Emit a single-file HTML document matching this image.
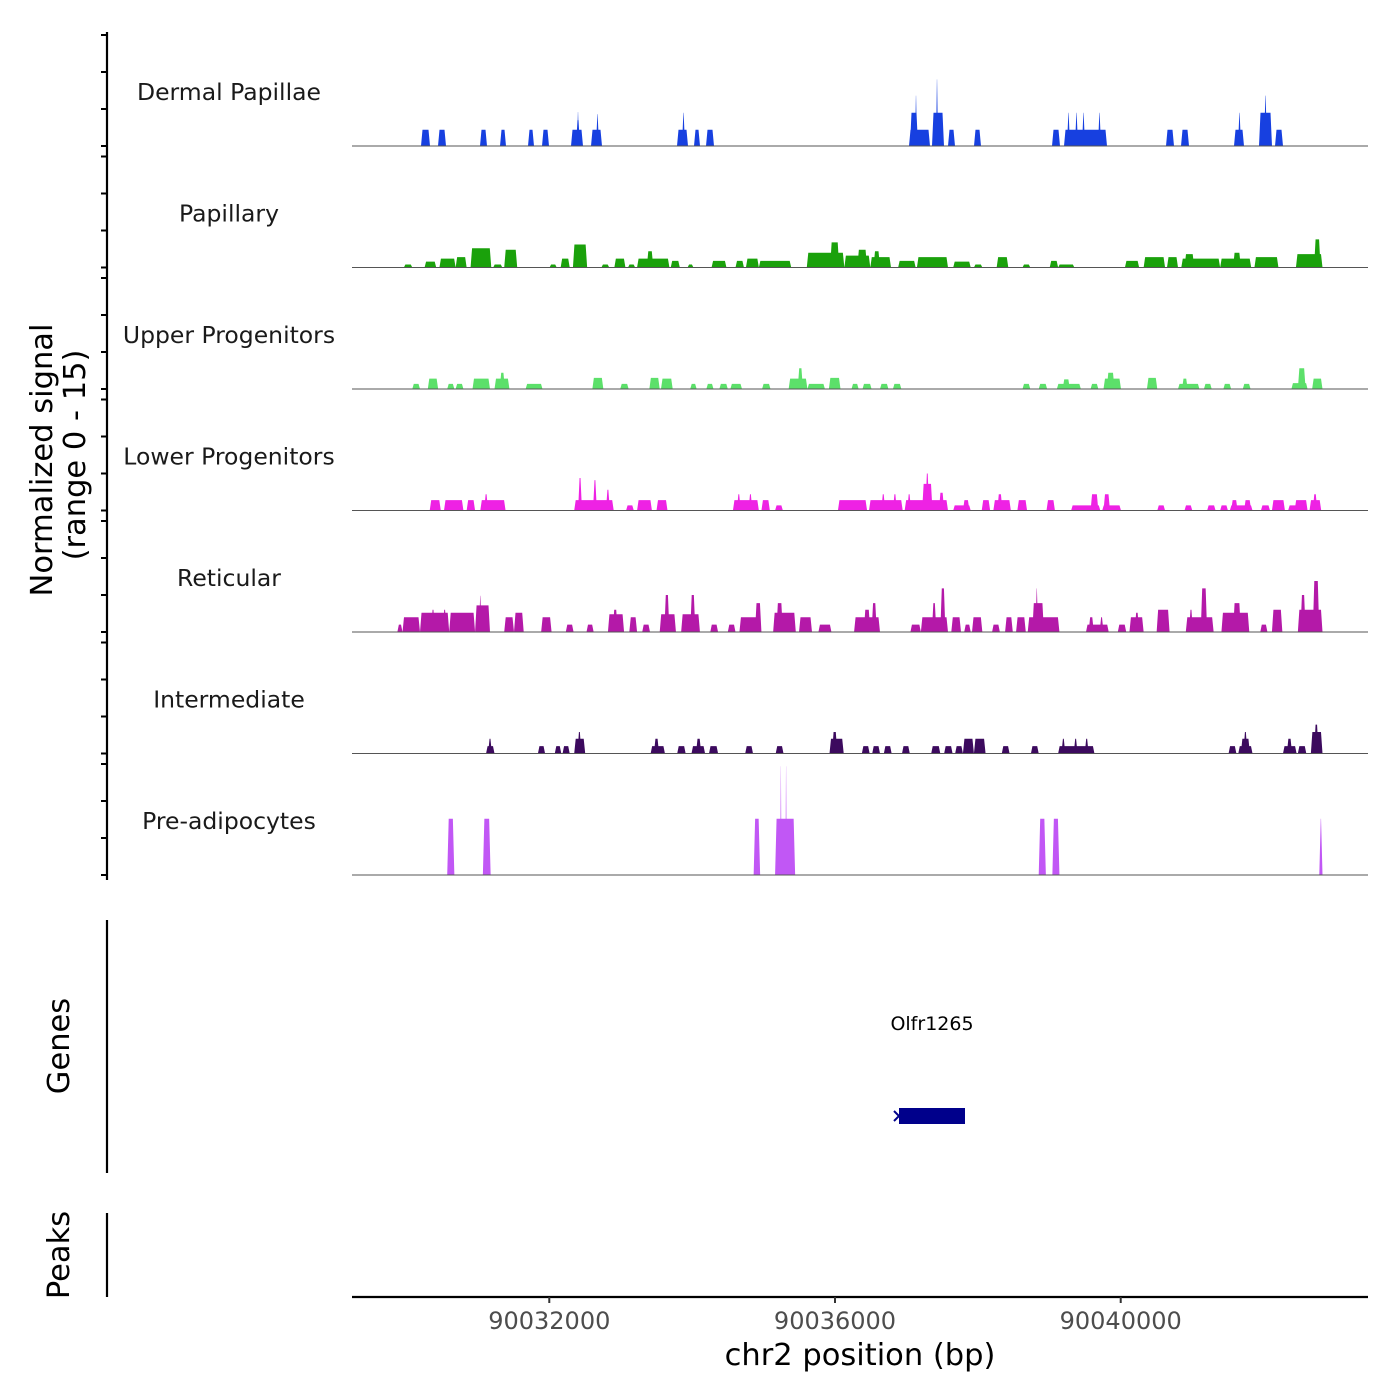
<!DOCTYPE html>
<html><head><meta charset="utf-8"><style>
html,body{margin:0;padding:0;background:#fff;}
svg{display:block;font-family:"DejaVu Sans","Liberation Sans",sans-serif;}
</style></head><body>
<svg id="chart" width="1400" height="1400" viewBox="0 0 1400 1400" xmlns="http://www.w3.org/2000/svg">
<rect width="1400" height="1400" fill="#fff"/>
<text transform="translate(52,460) rotate(-90)" text-anchor="middle" font-size="30.5" fill="#000">Normalized signal</text>
<text transform="translate(85,455) rotate(-90)" text-anchor="middle" font-size="30.5" fill="#000">(range 0 - 15)</text>
<text transform="translate(69,1046) rotate(-90)" text-anchor="middle" font-size="30.5" fill="#000">Genes</text>
<text transform="translate(69,1255) rotate(-90)" text-anchor="middle" font-size="30.5" fill="#000">Peaks</text>
<line x1="107" y1="32" x2="107" y2="880" stroke="#000" stroke-width="2.2"/>
<line x1="107" y1="920" x2="107" y2="1173" stroke="#000" stroke-width="2.2"/>
<line x1="107" y1="1213" x2="107" y2="1297" stroke="#000" stroke-width="2.2"/>
<line x1="352" y1="1297" x2="1368" y2="1297" stroke="#000" stroke-width="2.2"/>
<text x="860" y="1365" text-anchor="middle" font-size="30.5" fill="#000">chr2 position (bp)</text>
<g id="marks"></g>
</svg>
<script>
const regionStart = 90029238;
const regionEnd = 90043462;
const xTicks = [90032000, 90036000, 90040000];
const trackNames = ["Dermal Papillae","Papillary","Upper Progenitors","Lower Progenitors","Reticular","Intermediate","Pre-adipocytes"];
const trackColors = ["#1740E0","#1AA10B","#5CE06A","#EE22E4","#B419A8","#3C0A5E","#C157F5"];
const yTickValues = [0,5,10,15];
// peaks: [startOffsetBp, endOffsetBp, signal]
const dermalPeaks = [[966,1092,2.2],[1204,1316,2.2],[1792,1890,2.2],[2072,2156,2.2],[2464,2548,2.2],[2660,2758,2.2],[3066,3234,2.2],[3136,3192,3.5],[3150,3178,4.6],[3346,3500,2.2],[3416,3458,4.3],[4550,4704,2.2],[4620,4662,4.5],[4788,4872,2.2],[4956,5068,2.2],[7798,8092,2.2],[7812,7924,4.5],[7882,7910,6.8],[8120,8288,4.5],[8176,8204,9.0],[8344,8442,2.2],[8708,8806,2.2],[9800,9912,2.2],[9968,10570,2.2],[10010,10052,4.5],[10122,10164,4.5],[10220,10262,4.5],[10444,10486,4.5],[11396,11508,2.2],[11606,11718,2.2],[12348,12488,2.2],[12404,12446,4.5],[12698,12880,4.5],[12768,12810,6.8],[12922,13034,2.2]];
const papillaryPeaks = [[726,844,0.4],[1016,1179,0.8],[1224,1451,1.2],[1451,1605,1.4],[1660,1950,2.6],[1977,2104,0.4],[2131,2313,2.4],[2766,2866,0.4],[2921,3048,1.2],[3093,3292,3.1],[3492,3601,0.4],[3673,3828,1.2],[3864,3964,0.4],[3991,4444,1.2],[4127,4218,2.2],[4462,4589,0.9],[4698,4780,0.4],[5034,5242,0.9],[5369,5487,0.9],[5515,5696,1.2],[5696,6149,0.9],[6367,6893,2.0],[6694,6821,3.4],[6893,7256,1.6],[7075,7211,2.4],[7256,7546,1.4],[7301,7392,2.2],[7646,7891,0.9],[7909,8344,1.4],[8417,8662,0.8],[8707,8825,0.4],[9025,9188,1.4],[9387,9496,0.4],[9768,9886,0.9],[9886,10113,0.4],[10821,11020,0.9],[11083,11383,1.4],[11410,11564,1.4],[11610,12154,1.2],[11655,11791,1.8],[12154,12589,1.2],[12335,12444,2.0],[12634,12970,1.4],[13215,13587,1.8],[13469,13560,3.8]];
const upperPeaks = [[844,952,0.7],[1061,1206,1.4],[1333,1433,0.7],[1451,1560,0.7],[1687,1932,1.4],[1995,2204,1.4],[2068,2141,2.2],[2431,2667,0.7],[3365,3519,1.5],[3755,3873,0.7],[4163,4308,1.5],[4326,4490,1.4],[4735,4825,0.7],[4961,5061,0.7],[5143,5261,0.7],[5297,5460,0.7],[5741,5859,0.7],[6113,6376,1.4],[6240,6313,2.8],[6376,6621,0.7],[6676,6839,1.5],[6993,7093,0.7],[7147,7274,0.7],[7392,7510,0.7],[7573,7691,0.7],[9387,9496,0.7],[9614,9732,0.7],[9868,10204,0.7],[9950,10050,1.3],[10340,10449,0.7],[10521,10766,1.4],[10567,10675,2.2],[11129,11274,1.5],[11564,11864,0.7],[11620,11700,1.4],[11927,12036,0.7],[12199,12308,0.7],[12471,12580,0.7],[13152,13378,0.8],[13242,13351,2.8],[13442,13587,1.4]];
const lowerPeaks = [[1088,1243,1.4],[1288,1560,1.4],[1605,1723,1.4],[1796,2150,1.4],[1850,1905,2.2],[3111,3664,1.4],[3165,3220,4.4],[3374,3428,4.1],[3555,3610,2.8],[3837,3945,0.7],[3991,4199,1.4],[4263,4417,1.4],[5333,5696,1.4],[5388,5442,2.2],[5551,5605,2.2],[5732,5850,1.4],[5923,6032,0.7],[6803,7211,1.4],[7238,7710,1.4],[7410,7465,2.2],[7573,7628,2.2],[7737,8344,1.4],[7773,7827,2.2],[7982,8127,3.6],[8027,8081,5.0],[8217,8290,2.4],[8417,8662,0.7],[8553,8644,1.4],[8816,8934,1.4],[8979,9224,1.4],[9034,9106,2.2],[9315,9451,1.4],[9723,9841,1.4],[10068,10476,0.7],[10340,10449,2.2],[10503,10766,0.7],[10521,10612,2.2],[11274,11383,0.7],[11655,11764,0.7],[11972,12090,0.7],[12154,12263,0.7],[12290,12607,0.7],[12308,12399,1.4],[12489,12589,1.4],[12725,12852,0.7],[12879,13061,1.4],[13106,13378,0.7],[13197,13378,1.4],[13405,13569,1.4],[13451,13514,2.2]];
const reticularPeaks = [[635,707,1.0],[707,952,2.0],[952,1361,2.6],[1107,1161,3.0],[1270,1324,3.0],[1361,1723,2.6],[1723,1932,3.6],[1778,1814,4.9],[2131,2268,2.0],[2268,2404,2.6],[2648,2794,2.0],[2993,3102,1.0],[3283,3383,1.0],[3583,3809,2.4],[3650,3720,3.0],[3882,3991,2.0],[4063,4172,1.0],[4308,4535,2.4],[4372,4444,5.0],[4608,4871,2.4],[4735,4807,5.0],[5016,5125,1.0],[5261,5369,1.0],[5424,5714,2.0],[5642,5732,3.9],[5896,6213,2.6],[5941,6032,3.9],[6258,6440,2.0],[6530,6712,1.0],[7029,7392,2.0],[7165,7256,3.0],[7274,7347,3.9],[7818,7964,1.0],[7964,8344,2.0],[8118,8181,3.9],[8236,8308,5.9],[8390,8526,2.0],[8571,8662,1.0],[8680,8825,2.0],[8961,9070,1.0],[9143,9251,2.0],[9297,9433,2.0],[9460,9904,2.0],[9524,9687,3.9],[9569,9605,5.9],[10276,10594,1.0],[10313,10385,2.0],[10467,10521,2.0],[10721,10839,1.0],[10884,11083,2.0],[10957,11020,2.6],[11265,11446,3.0],[11673,12063,2.0],[11718,11773,3.0],[11882,11972,5.9],[12172,12562,2.6],[12335,12444,3.9],[12716,12816,1.0],[12879,13025,3.0],[13242,13587,3.0],[13278,13351,5.0],[13451,13542,6.9]];
const intermediatePeaks = [[1877,1995,1.0],[1905,1959,2.0],[2603,2703,1.0],[2839,2930,1.0],[2948,3048,1.0],[3111,3265,2.0],[3156,3211,2.9],[4181,4381,1.0],[4227,4299,2.0],[4553,4671,1.0],[4753,4943,1.0],[4816,4889,2.0],[4998,5125,1.0],[5505,5614,1.0],[5932,6041,1.0],[6685,6884,2.0],[6721,6794,2.9],[7138,7247,1.0],[7283,7392,1.0],[7446,7555,1.0],[7700,7809,1.0],[8109,8236,1.0],[8290,8408,1.0],[8444,8553,1.0],[8553,8707,2.0],[8707,8870,2.0],[9097,9206,1.0],[9505,9614,1.0],[9886,10394,1.0],[9932,9986,2.0],[10104,10158,2.0],[10258,10313,2.0],[12272,12381,1.0],[12408,12607,1.0],[12444,12571,2.0],[12480,12535,2.9],[13034,13224,1.0],[13088,13161,2.0],[13242,13360,1.0],[13424,13587,2.9],[13469,13532,3.9]];
const preadipocytePeaks = [[1333,1433,7.6],[1832,1941,7.6],[5623,5714,7.6],[5923,6204,7.6],[5995,6013,14.7],[6068,6086,14.7],[9614,9714,7.6],[9805,9904,7.6],[13542,13587,7.6]];
const trackPeaks = [dermalPeaks,papillaryPeaks,upperPeaks,lowerPeaks,reticularPeaks,intermediatePeaks,preadipocytePeaks];
const geneName = "Olfr1265";
const geneStart = 90036896;
const geneEnd = 90037820;

const NS = "http://www.w3.org/2000/svg";
const g = document.getElementById("marks");
const X0 = 352, X1 = 1368;
function xs(bp){ return X0 + (bp - regionStart) / (regionEnd - regionStart) * (X1 - X0); }
const trackTop = 25, trackH = 121.5, pxPerUnit = 7.4;
function baseY(i){ return trackTop + (i + 1) * trackH - 0.5; }
function ys(i, v){ return baseY(i) - Math.min(v, 15) * pxPerUnit; }
function mk(tag, attrs){ const e = document.createElementNS(NS, tag); for (const k in attrs) e.setAttribute(k, attrs[k]); g.appendChild(e); return e; }

trackNames.forEach((name, i) => {
  const b = baseY(i);
  yTickValues.forEach(v => {
    const t = mk("line", {x1: 101, x2: 107, y1: ys(i, v), y2: ys(i, v), stroke: "#000", "stroke-width": 2});
    
    
  });
  const lbl = mk("text", {x: 229, y: b - 46, "text-anchor": "middle", "font-size": 23.5, fill: "#1a1a1a"});
  lbl.textContent = name;
  
  
  let d = "";
  trackPeaks[i].forEach(p => {
    const xa = xs(regionStart + p[0]), xb = xs(regionStart + p[1]);
    const s = Math.min(1.5, (xb - xa) / 2.2);
    const yt = ys(i, p[2]);
    d += "M" + xa.toFixed(2) + " " + b + "L" + (xa + s).toFixed(2) + " " + yt.toFixed(2) + "L" + (xb - s).toFixed(2) + " " + yt.toFixed(2) + "L" + xb.toFixed(2) + " " + b + "Z";
  });
  const area = mk("path", {d: d, fill: trackColors[i]});
  
  
  const bl = mk("line", {x1: X0, x2: X1, y1: b, y2: b, stroke: "#555", "stroke-width": 1});
  
  
});

xTicks.forEach(v => {
  const t = mk("line", {x1: xs(v), x2: xs(v), y1: 1297, y2: 1303, stroke: "#333", "stroke-width": 2});
  
  
  const l = mk("text", {x: xs(v), y: 1329, "text-anchor": "middle", "font-size": 24, fill: "#4d4d4d"});
  l.textContent = v;
  
  
});

const ga = xs(geneStart), gb = xs(geneEnd);
const gr = mk("rect", {x: ga, y: 1108, width: gb - ga, height: 16, fill: "#00008b"});


const ar = mk("path", {d: "M" + (ga - 5) + " 1111L" + ga + " 1116L" + (ga - 5) + " 1121", stroke: "#00008b", "stroke-width": 2, fill: "none"});


const gl = mk("text", {x: (ga + gb) / 2, y: 1030, "text-anchor": "middle", "font-size": 19, fill: "#000"});
gl.textContent = geneName;


</script>
</body></html>
